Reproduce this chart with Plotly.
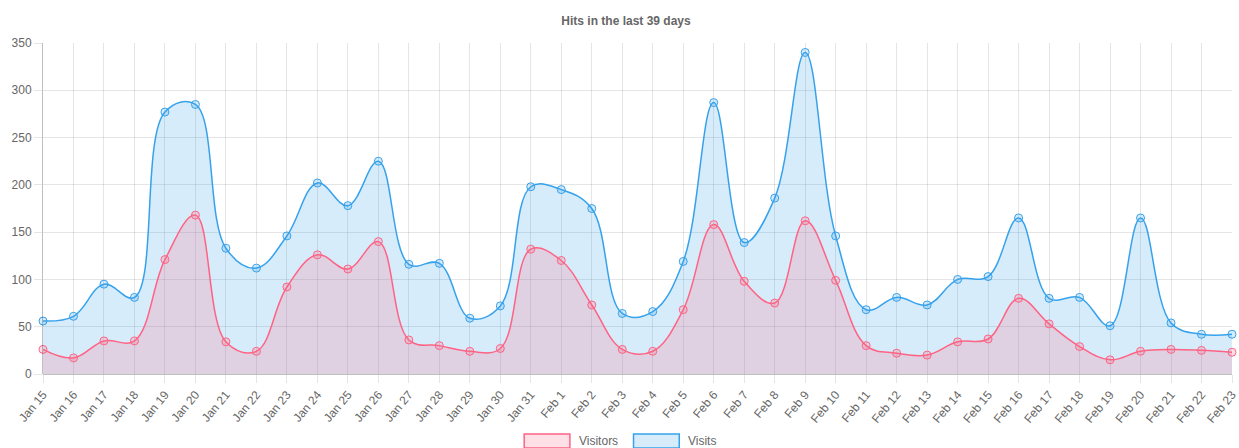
import plotly.graph_objects as go

labels = ["Jan 15", "Jan 16", "Jan 17", "Jan 18", "Jan 19", "Jan 20", "Jan 21", "Jan 22",
          "Jan 23", "Jan 24", "Jan 25", "Jan 26", "Jan 27", "Jan 28", "Jan 29", "Jan 30",
          "Jan 31", "Feb 1", "Feb 2", "Feb 3", "Feb 4", "Feb 5", "Feb 6", "Feb 7", "Feb 8",
          "Feb 9", "Feb 10", "Feb 11", "Feb 12", "Feb 13", "Feb 14", "Feb 15", "Feb 16",
          "Feb 17", "Feb 18", "Feb 19", "Feb 20", "Feb 21", "Feb 22", "Feb 23"]

visitors = [26, 17, 35, 35, 121, 168, 34, 24, 92, 126, 111, 140, 36, 30, 24, 27,
            132, 120, 73, 26, 24, 68, 158, 98, 75, 162, 99, 30, 22, 20, 34, 37, 80,
            53, 29, 15, 24, 26, 25, 23]

visits = [56, 61, 95, 81, 277, 285, 133, 112, 146, 202, 178, 225, 116, 117, 59, 72,
          198, 195, 175, 64, 66, 119, 287, 139, 186, 340, 146, 68, 81, 73, 100, 103, 165,
          80, 81, 51, 165, 54, 42, 42]

y_ticks = [0, 50, 100, 150, 200, 250, 300, 350]

RED = "rgb(255,99,132)"
RED_FILL = "rgba(255,99,132,0.2)"
BLUE = "rgb(54,162,235)"
BLUE_FILL = "rgba(54,162,235,0.2)"
GRAY = "#666666"
FONT = "Liberation Sans, Arial, Helvetica, sans-serif"

fig = go.Figure()
fig.add_trace(go.Scatter(
    x=labels, y=visits, name="Visits", mode="lines+markers",
    line=dict(color=BLUE, width=1.5, shape="spline", smoothing=1.1),
    fill="tozeroy", fillcolor=BLUE_FILL,
    marker=dict(size=8, color=BLUE_FILL, line=dict(color=BLUE, width=1)),
    cliponaxis=False, showlegend=False,
))
fig.add_trace(go.Scatter(
    x=labels, y=visitors, name="Visitors", mode="lines+markers",
    line=dict(color=RED, width=1.5, shape="spline", smoothing=1.1),
    fill="tozeroy", fillcolor=RED_FILL,
    marker=dict(size=8, color=RED_FILL, line=dict(color=RED, width=1)),
    cliponaxis=False, showlegend=False,
))

# legend drawn as boxes + labels (Chart.js style)
legend_items = [("Visitors", RED, RED_FILL, 527), ("Visits", BLUE, BLUE_FILL, 637)]
shapes = []
annotations = []
for name, c, fc, px in legend_items:
    shapes.append(dict(type="rect", xref="paper", yref="paper",
                       x0=(px - 43) / 1196, x1=(px + 46 - 43) / 1196,
                       y0=(374 - 448) / 331, y1=(374 - 434) / 331,
                       line=dict(color=c, width=1.5), fillcolor=fc))
    annotations.append(dict(text=name, xref="paper", yref="paper",
                            x=(px + 53 - 43) / 1196, y=(374 - 441) / 331,
                            xanchor="left", yanchor="middle", showarrow=False,
                            font=dict(family=FONT, size=12, color=GRAY)))

fig.update_layout(
    width=1239, height=448, autosize=False,
    margin=dict(l=43, r=0, t=43, b=74),
    paper_bgcolor="white", plot_bgcolor="white",
    font=dict(family=FONT, size=12, color=GRAY),
    title=dict(text="<b>Hits in the last 39 days</b>", x=626 / 1239, xanchor="center",
               y=1 - 21 / 448, yanchor="middle",
               font=dict(family=FONT, size=12, color=GRAY)),
    shapes=shapes, annotations=annotations,
    hovermode=False,
)
fig.update_xaxes(
    type="category", range=[0, len(labels) - 1],
    tickangle=-50, tickfont=dict(family=FONT, size=12, color=GRAY),
    showgrid=True, gridcolor="rgba(0,0,0,0.1)", gridwidth=1,
    ticks="outside", ticklen=8, tickcolor="rgba(0,0,0,0.1)",
    showline=False, zeroline=False,
)
fig.update_yaxes(
    range=[0, 350], tickvals=y_ticks,
    tickfont=dict(family=FONT, size=12, color=GRAY),
    showgrid=True, gridcolor="rgba(0,0,0,0.1)", gridwidth=1,
    ticks="outside", ticklen=8, tickcolor="rgba(0,0,0,0.1)",
    showline=True, linecolor="rgba(0,0,0,0.25)", linewidth=1,
    zeroline=True, zerolinecolor="rgba(0,0,0,0.25)", zerolinewidth=1,
)

fig.write_html("out.html", config={"displayModeBar": False},
               post_script="document.body.style.margin='0';")
